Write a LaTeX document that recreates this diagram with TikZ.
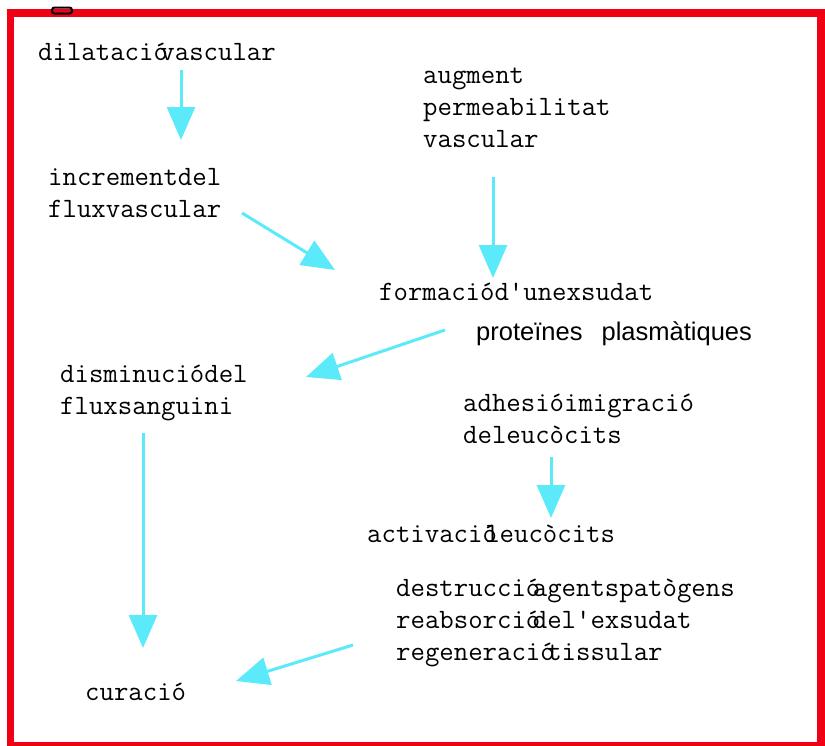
\documentclass[tikz,border=0pt]{standalone}
\usepackage{fontspec}
\setmainfont{Liberation Serif}
\newfontfamily\sansfont{Liberation Sans}
\usetikzlibrary{arrows.meta}
\definecolor{frame}{RGB}{240,0,20}
\definecolor{flow}{RGB}{90,234,250}
% overlapping accented letter followed by the next word
\newcommand{\ov}{\kern-0.27em}
\tikzset{
  lbl/.style={anchor=base west, inner sep=0pt, align=left,
    font=\ttfamily\fontsize{28}{32}\selectfont},
  sanslbl/.style={anchor=base west, inner sep=0pt,
    font=\sansfont\fontsize{25.5}{30}\selectfont},
  flowarrow/.style={draw=flow, line width=3pt,
    -{Triangle[width=28pt,length=33pt]}},
}
\begin{document}
\begin{tikzpicture}[x=1pt,y=-1pt]
\useasboundingbox (0,0) rectangle (825,745);
\begin{scope}
\clip (0,0) rectangle (825,745);
% outer frame
\draw[frame, line width=7.5pt] (10.5,13) rectangle (821,745.5);
\draw[black, line width=2pt, rounded corners=2.5pt] (52,7.5) rectangle (72,13.5);
\end{scope}

% labels (multi-line labels are placed by the baseline of their last line)
\node[lbl] (dil) at (38,60) {dilatació\ov vascular};
\node[lbl] (aug) at (423,147) {augment\\permeabilitat\\vascular};
\node[lbl] (inc) at (48,217) {incrementdel\\fluxvascular};
\node[lbl] (form) at (379,300) {formaciód'unexsudat};
\node[sanslbl] (prot) at (476,340) {proteïnes\hspace{0.75em}plasmàtiques};
\node[lbl] (dism) at (60,414) {disminuciódel\\fluxsanguini};
\node[lbl] (adh) at (463,443) {adhesióimigració\\deleucòcits};
\node[lbl] (act) at (367,542) {activació\kern-0.42em leucòcits};
\node[lbl] (dest) at (396,660) {destrucció\ov agentspatògens\\reabsorció\ov del'exsudat\\regeneració\ov tissular};
\node[lbl] (cur) at (85,700) {curació};

% connector end points
\coordinate (a1s) at (181,70);   \coordinate (a1e) at (181,140);
\coordinate (a2s) at (242,213);  \coordinate (a2e) at (335,270);
\coordinate (a3s) at (493,177);  \coordinate (a3e) at (493,278);
\coordinate (a4s) at (445,330);  \coordinate (a4e) at (306,377);
\coordinate (a5s) at (143,433);  \coordinate (a5e) at (143,648);
\coordinate (a6s) at (551,457);  \coordinate (a6e) at (551,518);
\coordinate (a7s) at (353,645);  \coordinate (a7e) at (236,681);

\draw[flowarrow] (a1s) -- (a1e);
\draw[flowarrow] (a2s) -- (a2e);
\draw[flowarrow] (a3s) -- (a3e);
\draw[flowarrow] (a4s) -- (a4e);
\draw[flowarrow] (a5s) -- (a5e);
\draw[flowarrow] (a6s) -- (a6e);
\draw[flowarrow] (a7s) -- (a7e);
\end{tikzpicture}
\end{document}
